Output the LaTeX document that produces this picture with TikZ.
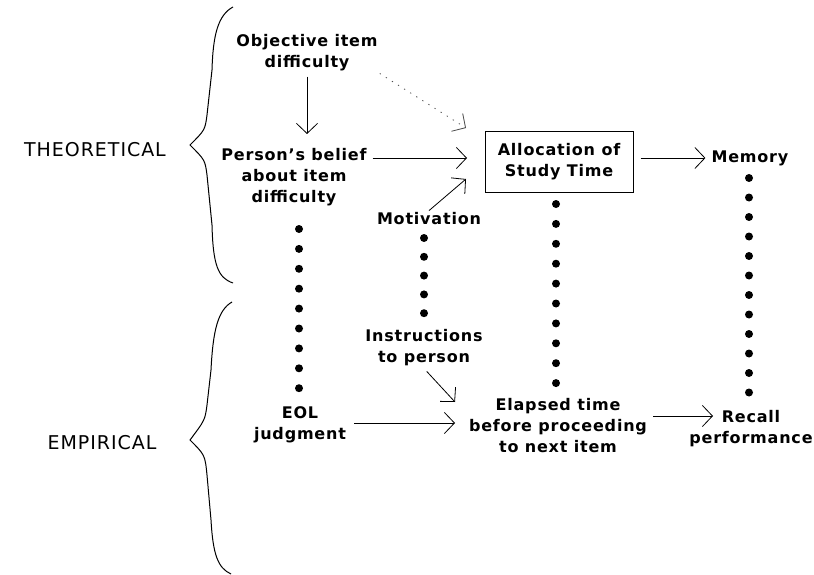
\documentclass[tikz,border=0pt]{standalone}
\usepackage{fontspec}
\setmainfont{DejaVu Sans}[LetterSpace=5]
\usetikzlibrary{arrows.meta}

\begin{document}
\begin{tikzpicture}[x=1pt,y=-1pt,
  lbl/.style={align=center,inner sep=2pt,font=\fontsize{16}{21}\selectfont\bfseries},
  side/.style={inner sep=0pt,font=\fontsize{19}{22}\selectfont},
  arr/.style={-{Straight Barb[length=10pt,width=21pt]},line width=0.8pt},
  brace/.style={line width=1pt}]
  \useasboundingbox (0,0) rectangle (814,575);

  % Levels
  \node[side] (theo) at (95,150) {THEORETICAL};
  \node[side] (emp) at (102,443) {EMPIRICAL};
  \draw[brace] (233,7) .. controls (218,15) and (213,35) .. (212,70) -- (207,115)
    .. controls (205,130) .. (190,145) .. controls (205,160) .. (207,175) -- (212,225)
    .. controls (213,265) and (218,278) .. (233,283);
  \draw[brace] (232,302) .. controls (218,310) and (213,330) .. (211,370) -- (207,405)
    .. controls (205,420) .. (190,440) .. controls (205,455) .. (207,475) -- (211,520)
    .. controls (213,555) and (218,568) .. (231,574);

  % Theoretical variables
  \node[lbl] (obj) at (307,53) {Objective item\\difficulty};
  \node[lbl] (belief) at (294,177) {Person's belief\\about item\\difficulty};
  \node[lbl] (motiv) at (429,219) {Motivation};
  \node[lbl,draw,line width=1pt,minimum width=148pt,minimum height=60pt] (alloc) at (559,162) {Allocation of\\Study Time};
  \node[lbl] (memory) at (750,158) {Memory};

  % Empirical variables
  \node[lbl] (instr) at (424,348) {Instructions\\to person};
  \node[lbl] (eol) at (300,425) {EOL\\judgment};
  \node[lbl] (elapsed) at (558,426) {Elapsed time\\before proceeding\\to next item};
  \node[lbl] (recall) at (751,429) {Recall\\performance};

  % Arrow ends
  \coordinate (a1) at (466,128);
  \coordinate (a2) at (467,158);
  \coordinate (a3) at (466,179);
  \coordinate (a4) at (455,402);
  \coordinate (a5) at (455,423);
  \coordinate (a6) at (713,416);

  \draw[arr,shorten <=3pt,shorten >=12pt] (obj.south) -- (obj.south |- belief.north);
  \draw[arr,black!70,dash pattern=on 1.2pt off 6pt] (obj.south east) -- (a1);
  \draw[arr,shorten <=4pt] (belief.east |- a2) -- (a2);
  \draw[arr] (motiv.north) -- (a3);
  \draw[arr,shorten <=7pt,shorten >=4pt] (alloc.east |- memory) -- (memory.west);
  \draw[arr,shorten <=4pt] (instr.south) -- (a4);
  \draw[arr,shorten <=6pt] (eol.east |- a5) -- (a5);
  \draw[arr,shorten <=4pt] (elapsed.east |- a6) -- (a6);

  % Correspondence dots
  \foreach \i in {0,...,8} \fill (299,{229+19.9*\i}) circle (4pt);
  \foreach \i in {0,...,4} \fill (424,{238+18.8*\i}) circle (4pt);
  \foreach \i in {0,...,9} \fill (556,{204+19.9*\i}) circle (4pt);
  \foreach \i in {0,...,11} \fill (749,{178+19.5*\i}) circle (4pt);
\end{tikzpicture}
\end{document}
